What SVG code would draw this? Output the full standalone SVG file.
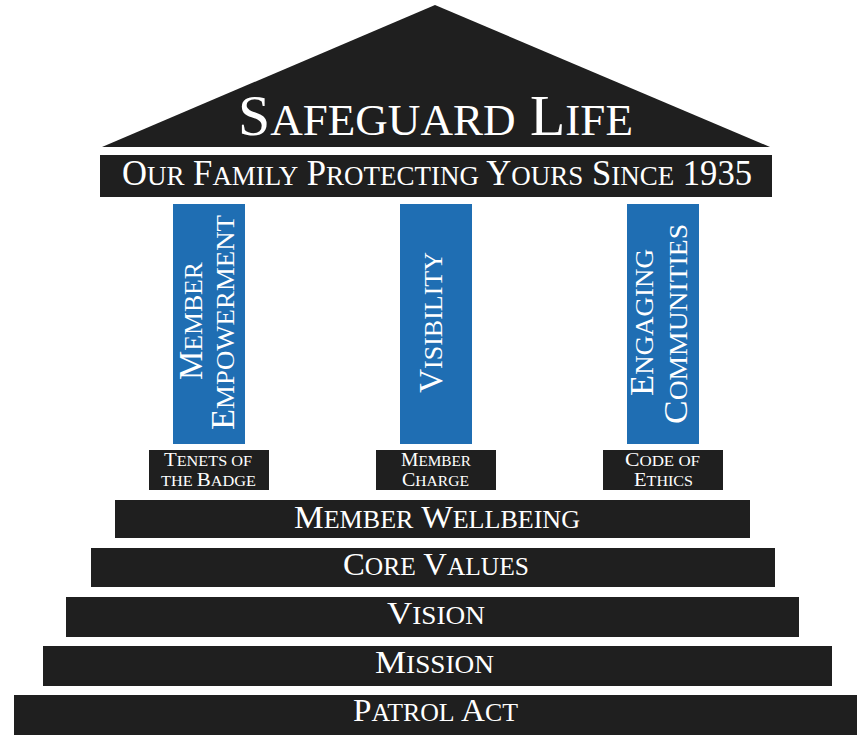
<svg xmlns="http://www.w3.org/2000/svg" width="857" height="735" viewBox="0 0 857 735">
  <style>
    .dark { fill: #1f1f1f; }
    .pillar { fill: #1f6eb3; }
    .t { fill: #ffffff; font-family: "Liberation Serif", "DejaVu Serif", serif; text-transform: uppercase; text-anchor: middle; }
    .sc { font-size: 0.78em; }
    .title { font-size: 57px; }
    .sub { font-size: 35px; }
    .band { font-size: 32px; }
    .col { font-size: 33px; }
    .lbl { font-size: 19px; }
  </style>
  <rect width="857" height="735" fill="#ffffff"/>

  <!-- Roof -->
  <g id="roof">
    <polygon class="dark" points="435,5 770,147 102,147"/>
    <text class="t title" x="435.5" y="135" textLength="395" lengthAdjust="spacingAndGlyphs">S<tspan class="sc">afeguard</tspan> L<tspan class="sc">ife</tspan></text>
  </g>

  <!-- Entablature -->
  <g id="motto">
    <rect class="dark" x="100" y="155" width="672" height="42"/>
    <text class="t sub" x="437" y="185" textLength="630" lengthAdjust="spacingAndGlyphs">O<tspan class="sc">ur</tspan> F<tspan class="sc">amily</tspan> P<tspan class="sc">rotecting</tspan> Y<tspan class="sc">ours</tspan> S<tspan class="sc">ince</tspan> 1935</text>
  </g>

  <!-- Columns -->
  <g id="pillar-empowerment">
    <rect class="pillar" x="173" y="204" width="72" height="240"/>
    <text class="t col" transform="translate(202,321) rotate(-90)" textLength="118" lengthAdjust="spacingAndGlyphs">M<tspan class="sc">ember</tspan></text>
    <text class="t col" transform="translate(234,322.5) rotate(-90)" textLength="215" lengthAdjust="spacingAndGlyphs">E<tspan class="sc">mpowerment</tspan></text>
  </g>
  <g id="pillar-visibility">
    <rect class="pillar" x="400" y="204" width="72" height="240"/>
    <text class="t col" transform="translate(442,322.5) rotate(-90)" textLength="141" lengthAdjust="spacingAndGlyphs">V<tspan class="sc">isibility</tspan></text>
  </g>
  <g id="pillar-communities">
    <rect class="pillar" x="627" y="204" width="72" height="240"/>
    <text class="t col" transform="translate(653,322.5) rotate(-90)" textLength="147" lengthAdjust="spacingAndGlyphs">E<tspan class="sc">ngaging</tspan></text>
    <text class="t col" transform="translate(687,324) rotate(-90)" textLength="200" lengthAdjust="spacingAndGlyphs">C<tspan class="sc">ommunities</tspan></text>
  </g>

  <!-- Column bases -->
  <g id="base-tenets">
    <rect class="dark" x="149" y="450" width="120" height="40"/>
    <text class="t lbl" x="208" y="466" textLength="88" lengthAdjust="spacingAndGlyphs">T<tspan class="sc">enets of</tspan></text>
    <text class="t lbl" x="208.5" y="485.5" textLength="95" lengthAdjust="spacingAndGlyphs"><tspan class="sc">the </tspan>B<tspan class="sc">adge</tspan></text>
  </g>
  <g id="base-charge">
    <rect class="dark" x="376" y="450" width="120" height="40"/>
    <text class="t lbl" x="436" y="466" textLength="70" lengthAdjust="spacingAndGlyphs">M<tspan class="sc">ember</tspan></text>
    <text class="t lbl" x="435.5" y="485.5" textLength="67" lengthAdjust="spacingAndGlyphs">C<tspan class="sc">harge</tspan></text>
  </g>
  <g id="base-ethics">
    <rect class="dark" x="603" y="450" width="120" height="40"/>
    <text class="t lbl" x="662.5" y="466" textLength="75" lengthAdjust="spacingAndGlyphs">C<tspan class="sc">ode of</tspan></text>
    <text class="t lbl" x="663.5" y="485.5" textLength="59" lengthAdjust="spacingAndGlyphs">E<tspan class="sc">thics</tspan></text>
  </g>

  <!-- Steps -->
  <g id="step-wellbeing">
    <rect class="dark" x="115" y="500" width="635" height="38"/>
    <text class="t band" x="437" y="528" textLength="286" lengthAdjust="spacingAndGlyphs">M<tspan class="sc">ember</tspan> W<tspan class="sc">ellbeing</tspan></text>
  </g>
  <g id="step-values">
    <rect class="dark" x="91" y="548" width="684" height="39"/>
    <text class="t band" x="436" y="575" textLength="186" lengthAdjust="spacingAndGlyphs">C<tspan class="sc">ore</tspan> V<tspan class="sc">alues</tspan></text>
  </g>
  <g id="step-vision">
    <rect class="dark" x="66" y="597" width="733" height="40"/>
    <text class="t band" x="436" y="624" textLength="98" lengthAdjust="spacingAndGlyphs">V<tspan class="sc">ision</tspan></text>
  </g>
  <g id="step-mission">
    <rect class="dark" x="43" y="646" width="789" height="40"/>
    <text class="t band" x="434.5" y="673" textLength="119" lengthAdjust="spacingAndGlyphs">M<tspan class="sc">ission</tspan></text>
  </g>
  <g id="step-patrol">
    <rect class="dark" x="14" y="695" width="843" height="40"/>
    <text class="t band" x="435.5" y="721" textLength="165" lengthAdjust="spacingAndGlyphs">P<tspan class="sc">atrol</tspan> A<tspan class="sc">ct</tspan></text>
  </g>

  <!-- No connectors in this figure -->
  <g id="connectors"/>
</svg>
